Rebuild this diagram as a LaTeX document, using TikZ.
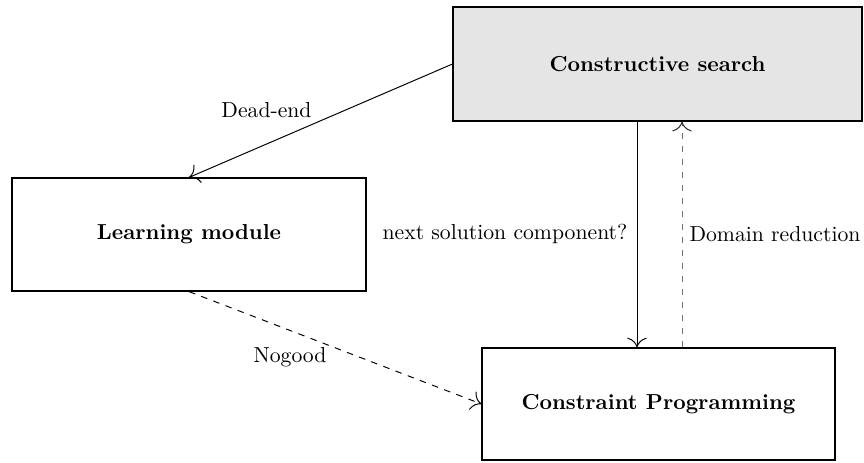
\documentclass[tikz,border=0pt]{standalone}
\usetikzlibrary{calc,arrows.meta}
\begin{document}
\begin{tikzpicture}[x=0.461pt,y=-0.461pt,
  box/.style={draw,rectangle,font=\bfseries,inner sep=0pt,line width=0.55pt},
  lbl/.style={inner sep=0pt},
  link/.style={-{Computer Modern Rightarrow[length=4.5pt,width=9pt]},line width=0.45pt},
  graylink/.style={-{Computer Modern Rightarrow[length=4.5pt,width=9pt,black!85]},line width=0.45pt,dashed,black!55}]
\useasboundingbox (0,0) rectangle (864,462);
\node[box,fill=gray!20,minimum width=188.5pt,minimum height=52.6pt] (cs) at (657.5,64) {Constructive search};
\node[box,minimum width=163.2pt,minimum height=52.1pt] (lm) at (189,234.5) {Learning module};
\node[box,minimum width=162.7pt,minimum height=51.6pt] (cp) at (658.5,404) {Constraint Programming};
\coordinate (xl) at (637,0);
\coordinate (xr) at (682,0);
\draw[link] (cs.west) -- (lm.north);
\draw[link] (cs.south -| xl) -- (cp.north -| xl);
\draw[graylink] (cp.north -| xr) -- (cs.south -| xr);
\draw[link,dashed] (lm.south) -- (cp.west);
\node[lbl] (l1) at (266.5,110) {Dead-end};
\node[lbl] (l2) at (505,234) {next solution component?};
\node[lbl] (l3) at (775,234) {Domain reduction};
\node[lbl] (l4) at (290,357) {Nogood};
\end{tikzpicture}
\end{document}
